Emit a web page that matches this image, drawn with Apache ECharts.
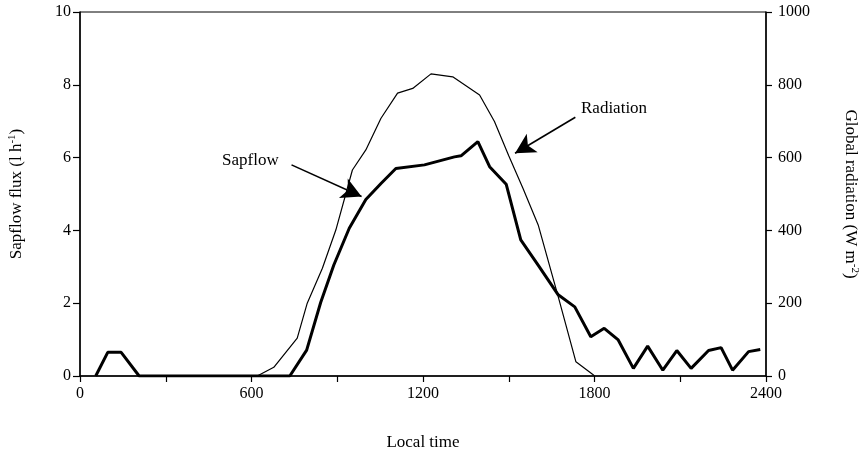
<!DOCTYPE html>
<html>
<head>
<meta charset="utf-8">
<script src="https://cdn.jsdelivr.net/npm/echarts@6/dist/echarts.min.js"></script>
<style>
  html, body { margin: 0; padding: 0; background: #fff; }
  #chart { width: 862px; height: 452px; }
</style>
</head>
<body>
<div id="chart"></div>
<script>
  // sapflow (l/h), left axis
  var sapTime = [55, 97, 144, 207, 734, 793, 842, 888, 942, 1000, 1053, 1105, 1205, 1310, 1333, 1392, 1433, 1491, 1542, 1607, 1673, 1731, 1787, 1834, 1883, 1936, 1986, 2039, 2088, 2138, 2199, 2243, 2283, 2339, 2380];
  var sapFlow = [0, 0.65, 0.65, 0, 0, 0.71, 2.02, 3.05, 4.06, 4.85, 5.29, 5.7, 5.8, 6.02, 6.05, 6.44, 5.75, 5.27, 3.74, 3.0, 2.23, 1.9, 1.08, 1.31, 0.99, 0.21, 0.82, 0.16, 0.7, 0.21, 0.7, 0.78, 0.16, 0.67, 0.73];

  // global radiation (W/m2), right axis
  var radTime = [620, 678, 760, 795, 848, 895, 953, 1000, 1053, 1111, 1164, 1228, 1304, 1398, 1450, 1500, 1550, 1603, 1673, 1735, 1793, 1800];
  var radValue = [0, 24, 104, 200, 296, 401, 566, 621, 708, 777, 790, 830, 822, 772, 699, 605, 515, 415, 218, 39, 5, 0];

  var xTicks = [0, 600, 1200, 1800, 2400];

  function pairs(xs, ys) {
    return xs.map(function (x, i) { return [x, ys[i]]; });
  }

  var font = 'Liberation Serif';
  var chart = echarts.init(document.getElementById('chart'));

  var supRich = {
    n: { fontFamily: font, fontSize: 17, color: '#000' },
    s: { fontFamily: font, fontSize: 11, color: '#000', verticalAlign: 'top', padding: [0, 0, 9, 0] }
  };

  chart.setOption({
    animation: false,
    textStyle: { fontFamily: font, color: '#000' },
    grid: {
      left: 80, right: 96, top: 12, bottom: 76,
      outerBoundsMode: 'none',
      containLabel: false,
      show: true, borderColor: '#000', borderWidth: 1
    },
    xAxis: {
      type: 'value',
      min: 0, max: 2400, interval: 300,
      name: 'Local time',
      nameLocation: 'middle',
      nameGap: 58,
      nameTextStyle: { fontFamily: font, fontSize: 17, color: '#000' },
      axisLine: { lineStyle: { color: '#000', width: 1.5 } },
      axisTick: { length: 6, lineStyle: { color: '#000', width: 1.2 } },
      axisLabel: {
        fontFamily: font, fontSize: 16, color: '#000', margin: 10,
        formatter: function (v) { return xTicks.indexOf(v) >= 0 ? String(v) : ''; }
      },
      splitLine: { show: false }
    },
    yAxis: [{
      type: 'value',
      min: 0, max: 10, interval: 2,
      name: '{n|Sapflow flux (l h}{s|-1}{n|)}',
      nameLocation: 'middle',
      nameGap: 53,
      nameTextStyle: { fontFamily: font, color: '#000', rich: supRich },
      axisLine: { show: true, lineStyle: { color: '#000', width: 1.5 } },
      axisTick: { show: true, length: 7, lineStyle: { color: '#000', width: 1.2 } },
      axisLabel: { fontFamily: font, fontSize: 16, color: '#000', margin: 9 },
      splitLine: { show: false }
    }, {
      type: 'value',
      position: 'right',
      min: 0, max: 1000, interval: 200,
      name: '{n|Global radiation (W m}{s|-2}{n|)}',
      nameLocation: 'middle',
      nameGap: 74,
      nameRotate: -90,
      nameTextStyle: { fontFamily: font, color: '#000', rich: supRich },
      axisLine: { show: true, lineStyle: { color: '#000', width: 1.5 } },
      axisTick: { show: true, length: 6, lineStyle: { color: '#000', width: 1.2 } },
      axisLabel: {
        fontFamily: font, fontSize: 16, color: '#000', margin: 12,
        formatter: function (v) { return String(v); }
      },
      splitLine: { show: false }
    }],
    series: [{
      name: 'Sapflow',
      type: 'line',
      yAxisIndex: 0,
      data: pairs(sapTime, sapFlow),
      showSymbol: false,
      lineStyle: { color: '#000', width: 3 },
      markLine: {
        silent: true,
        symbol: ['none', 'arrow'],
        symbolSize: [16, 20],
        lineStyle: { color: '#000', width: 1.6, type: 'solid' },
        label: { show: false },
        data: [[{ coord: [740, 5.8] }, { coord: [985, 4.93] }]]
      }
    }, {
      name: 'Radiation',
      type: 'line',
      yAxisIndex: 1,
      data: pairs(radTime, radValue),
      showSymbol: false,
      lineStyle: { color: '#000', width: 1.2 },
      markLine: {
        silent: true,
        symbol: ['none', 'arrow'],
        symbolSize: [16, 20],
        lineStyle: { color: '#000', width: 1.6, type: 'solid' },
        label: { show: false },
        data: [[{ coord: [1733, 711] }, { coord: [1522, 612] }]]
      }
    }],
    graphic: [{
      type: 'text', left: 222, top: 152,
      style: { text: 'Sapflow', font: '17px "Liberation Serif"', fill: '#000' }
    }, {
      type: 'text', left: 581, top: 100,
      style: { text: 'Radiation', font: '17px "Liberation Serif"', fill: '#000' }
    }]
  });
</script>
</body>
</html>
